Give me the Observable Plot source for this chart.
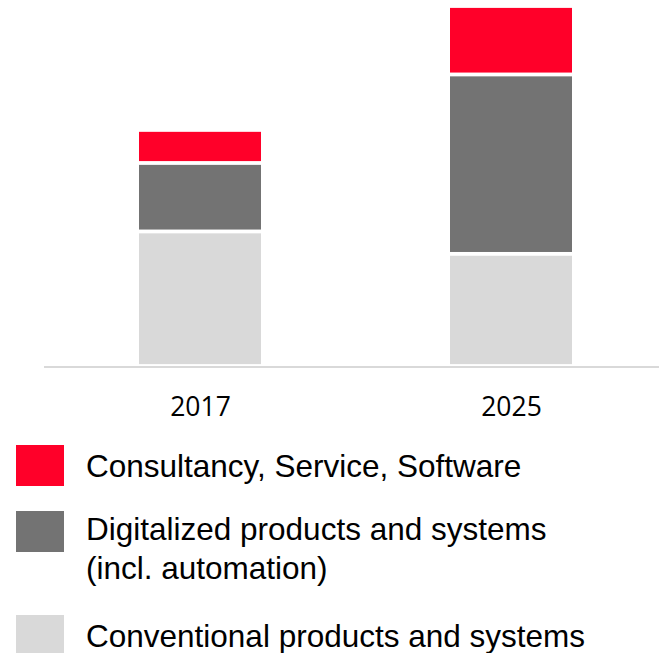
<!DOCTYPE html>
<html>
<head>
<meta charset="utf-8">
<script src="https://cdn.jsdelivr.net/npm/d3@7"></script>
<script src="https://cdn.jsdelivr.net/npm/@observablehq/plot@0.6"></script>
<style>
  html, body { margin: 0; padding: 0; background: #fff; }
  #wrap { width: 659px; height: 653px; overflow: hidden; position: relative; }
  #legend { position: relative; width: 659px; height: 223px; font-family: "Liberation Sans", Arial, sans-serif; font-size: 31.5px; color: #000; }
  .sw { position: absolute; left: 16px; width: 48px; height: 41px; }
  .lt { position: absolute; left: 86px; line-height: 39px; white-space: nowrap; }
</style>
</head>
<body>
<div id="wrap">
  <div id="chart"></div>
  <div id="legend"></div>
</div>
<script>
const years = ["2017", "2025"];
const segments = ["Conventional products and systems", "Digitalized products and systems (incl. automation)", "Consultancy, Service, Software"];
const conventional = [57, 47.5];
const digitalized = [29, 76];
const consultancy = [14, 29];
const colors = ["#d9d9d9", "#737373", "#ff0029"];

const data = [];
years.forEach((y, i) => {
  data.push({year: y, segment: segments[0], value: conventional[i]});
  data.push({year: y, segment: segments[1], value: digitalized[i]});
  data.push({year: y, segment: segments[2], value: consultancy[i]});
});

const plot = Plot.plot({
  width: 659,
  height: 430,
  marginTop: 6,
  marginBottom: 64,
  marginLeft: 44,
  marginRight: 0,
  x: {domain: years, paddingInner: 0.608, paddingOuter: 0.291, align: 0.524, label: null},
  y: {domain: [0, 152.5], axis: null},
  color: {domain: segments, range: colors},
  marks: [
    Plot.barY(data, {
      x: "year", y: "value", fill: "segment",
      order: segments, insetTop: 1.9, insetBottom: 1.9
    }),
    Plot.ruleY([0], {stroke: "#d9d9d9", strokeWidth: 2, dy: 0.5}),
    Plot.axisX({tickSize: 0, tickPadding: 31, fontSize: 26.5, fill: "#000", label: null, fontFamily: "'Open Sans', sans-serif"})
  ],
  style: {fontFamily: "'Open Sans', sans-serif", background: "#fff", overflow: "visible"}
});
document.getElementById("chart").appendChild(plot);

// legend (top entry drawn first: red, then dark, then light)
const legendItems = [
  {label: ["Consultancy, Service, Software"], color: colors[2], swTop: 15, txtTop: 16.8},
  {label: ["Digitalized products and systems", "(incl. automation)"], color: colors[1], swTop: 81, txtTop: 80},
  {label: ["Conventional products and systems"], color: colors[0], swTop: 185, txtTop: 186.5}
];
const legend = document.getElementById("legend");
legendItems.forEach(it => {
  const sw = document.createElement("div");
  sw.className = "sw";
  sw.style.top = it.swTop + "px";
  sw.style.background = it.color;
  legend.appendChild(sw);
  const t = document.createElement("div");
  t.className = "lt";
  t.style.top = it.txtTop + "px";
  t.innerHTML = it.label.join("<br>");
  legend.appendChild(t);
});
</script>
</body>
</html>
